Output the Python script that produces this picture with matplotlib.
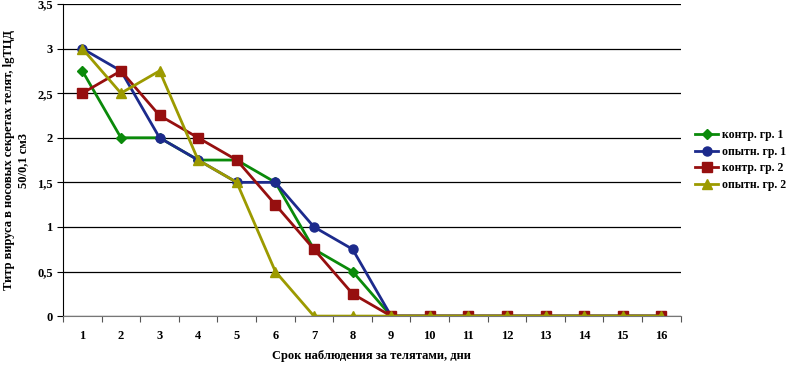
import numpy as np
import matplotlib.pyplot as plt

plt.rcParams['font.family'] = 'Liberation Serif'
plt.rcParams['font.weight'] = 'bold'
plt.rcParams['axes.labelweight'] = 'bold'
plt.rcParams['font.size'] = 9

days = list(range(1, 17))
kontr1 = [2.75, 2, 2, 1.75, 1.75, 1.5, 0.75, 0.5, 0, 0, 0, 0, 0, 0, 0, 0]
opytn1 = [3, 2.75, 2, 1.75, 1.5, 1.5, 1, 0.75, 0, 0, 0, 0, 0, 0, 0, 0]
kontr2 = [2.5, 2.75, 2.25, 2, 1.75, 1.25, 0.75, 0.25, 0, 0, 0, 0, 0, 0, 0, 0]
opytn2 = [3, 2.5, 2.75, 1.75, 1.5, 0.5, 0, 0, 0, 0, 0, 0, 0, 0, 0, 0]

fig = plt.figure(figsize=(7.98, 3.65), dpi=100)
ax = fig.add_axes([0.079, 0.134, 0.774, 0.855])

ax.plot(days, kontr1, color='#0a8a0a', marker='D', markersize=5, lw=2, label='контр. гр. 1')
ax.plot(days, opytn1, color='#1c2a8c', marker='o', markersize=6.5, lw=2, label='опытн. гр. 1')
ax.plot(days, kontr2, color='#960f0f', marker='s', markersize=6.5, lw=2, label='контр. гр. 2')
ax.plot(days, opytn2, color='#9c9a00', marker='^', markersize=6.5, lw=2, label='опытн. гр. 2')

ax.set_xlim(0.5, 16.5)
ax.set_ylim(0, 3.5)
ax.set_yticks(np.arange(0, 3.51, 0.5))
ax.set_yticklabels(['0', '0,5', '1', '1,5', '2', '2,5', '3', '3,5'])
ax.set_xticks(np.arange(0.5, 17, 1))
ax.set_xticklabels([])
ax.set_xticks(days, minor=True)
ax.set_xticklabels([str(d) for d in days], minor=True)
ax.tick_params(axis='x', which='minor', length=0, pad=10)
ax.tick_params(axis='x', which='major', length=4, direction='out', color='#555555')
ax.tick_params(axis='y', length=4, direction='out')
ax.yaxis.grid(True, color='black', lw=0.9)
ax.set_axisbelow(True)
for s in ['top', 'right']:
    ax.spines[s].set_visible(False)
ax.spines['bottom'].set_color('#777777')

ax.set_xlabel('Срок наблюдения за телятами, дни', labelpad=6)
ax.set_ylabel('Титр вируса в носовых секретах телят, lgТЦД\n50/0,1 см3', labelpad=6)

ax.legend(loc='center left', bbox_to_anchor=(1.0, 0.5), frameon=False, fontsize=8.5,
          handlelength=2.0, handletextpad=0.3, labelspacing=0.4, borderaxespad=0.8)

fig.savefig('out.png', dpi=100)
